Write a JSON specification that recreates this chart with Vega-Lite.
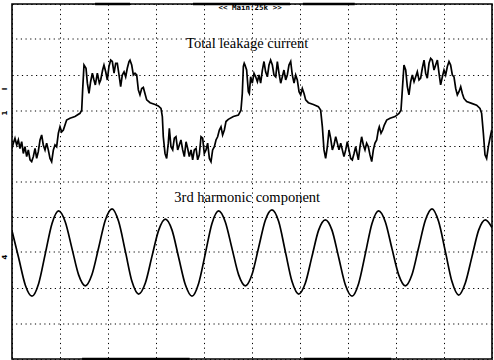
{
  "$schema": "https://vega.github.io/schema/vega-lite/v6.json",
  "width": 480,
  "height": 355,
  "autosize": "none",
  "padding": {"left": 12, "top": 4, "right": 2, "bottom": 1},
  "background": "white",
  "config": {"view": {"stroke": "black", "strokeWidth": 1.6}},
  "resolve": {"scale": {"y": "independent"}, "axis": {"y": "independent"}},
  "datasets": {
    "leak": [
      {"t":0.00,"v":0.93},{"t":0.14,"v":1.08},{"t":0.31,"v":1.22},{"t":0.49,"v":1.03},{"t":0.66,"v":1.17},{"t":0.83,"v":0.93},{"t":1.01,"v":1.12},{"t":1.18,"v":0.79},{"t":1.35,"v":0.98},{"t":1.53,"v":0.70},{"t":1.70,"v":0.89},{"t":1.88,"v":0.61},{"t":2.05,"v":0.56},{"t":2.22,"v":0.70},{"t":2.40,"v":0.93},{"t":2.57,"v":0.65},{"t":2.74,"v":0.84},{"t":2.92,"v":1.17},{"t":3.09,"v":1.31},{"t":3.26,"v":1.03},{"t":3.44,"v":0.89},{"t":3.61,"v":1.08},{"t":3.78,"v":0.89},{"t":3.96,"v":0.65},{"t":4.13,"v":0.56},{"t":4.31,"v":0.89},{"t":4.48,"v":1.03},{"t":4.65,"v":0.98},{"t":4.83,"v":1.36},{"t":5.00,"v":1.54},{"t":5.17,"v":1.40},{"t":5.35,"v":1.45},{"t":5.52,"v":1.59},{"t":5.69,"v":1.73},{"t":6.04,"v":1.78},{"t":6.56,"v":1.83},{"t":7.08,"v":1.92},{"t":7.26,"v":2.01},{"t":7.36,"v":2.58},{"t":7.50,"v":3.28},{"t":7.71,"v":3.19},{"t":7.85,"v":2.77},{"t":8.02,"v":2.48},{"t":8.19,"v":2.81},{"t":8.37,"v":3.05},{"t":8.54,"v":2.86},{"t":8.68,"v":2.72},{"t":8.89,"v":3.05},{"t":9.10,"v":2.77},{"t":9.24,"v":2.86},{"t":9.44,"v":3.14},{"t":9.58,"v":3.28},{"t":9.76,"v":3.09},{"t":9.93,"v":2.86},{"t":10.10,"v":3.24},{"t":10.28,"v":3.42},{"t":10.45,"v":3.38},{"t":10.63,"v":3.05},{"t":10.80,"v":3.33},{"t":10.97,"v":3.33},{"t":11.15,"v":3.00},{"t":11.32,"v":2.67},{"t":11.49,"v":3.00},{"t":11.67,"v":3.09},{"t":11.84,"v":2.95},{"t":12.01,"v":3.19},{"t":12.19,"v":3.38},
      {"t":12.29,"v":3.42},{"t":12.47,"v":3.28},{"t":12.64,"v":3.00},{"t":12.81,"v":3.05},{"t":12.99,"v":3.00},{"t":13.16,"v":2.58},{"t":13.33,"v":2.44},{"t":13.51,"v":2.62},{"t":13.68,"v":2.65},{"t":13.85,"v":2.48},{"t":14.03,"v":2.30},{"t":14.38,"v":2.22},{"t":14.90,"v":2.17},{"t":15.24,"v":2.13},{"t":15.52,"v":2.06},{"t":15.66,"v":1.83},{"t":15.76,"v":1.26},{"t":15.94,"v":0.79},{"t":16.11,"v":0.65},{"t":16.28,"v":1.08},{"t":16.39,"v":1.50},{"t":16.56,"v":0.98},{"t":16.74,"v":0.89},{"t":16.91,"v":1.22},{"t":17.08,"v":1.26},{"t":17.26,"v":0.89},{"t":17.43,"v":1.03},{"t":17.60,"v":1.17},{"t":17.78,"v":0.89},{"t":17.95,"v":0.70},{"t":18.13,"v":1.12},{"t":18.30,"v":0.93},{"t":18.47,"v":0.70},{"t":18.65,"v":0.89},{"t":18.82,"v":0.61},{"t":18.99,"v":0.89},{"t":19.17,"v":0.93},{"t":19.34,"v":0.61},{"t":19.51,"v":0.75},{"t":19.69,"v":1.26},{"t":19.86,"v":1.22},{"t":20.03,"v":0.79},{"t":20.21,"v":0.89},{"t":20.38,"v":1.08},{"t":20.56,"v":0.65},{"t":20.73,"v":0.56},{"t":20.90,"v":0.89},{"t":21.08,"v":0.98},{"t":21.25,"v":1.17},{"t":21.42,"v":1.26},{"t":21.60,"v":1.45},{"t":21.77,"v":1.54},{"t":21.94,"v":1.31},{"t":22.12,"v":1.45},{"t":22.29,"v":1.69},{"t":22.53,"v":1.75},{"t":23.06,"v":1.83},{"t":23.58,"v":1.87},{"t":23.85,"v":2.01},{"t":23.99,"v":2.48},{"t":24.10,"v":3.24},{"t":24.19,"v":3.33},
      {"t":24.27,"v":3.28},{"t":24.44,"v":3.14},{"t":24.62,"v":2.53},{"t":24.72,"v":2.48},{"t":24.86,"v":2.95},{"t":25.03,"v":2.77},{"t":25.21,"v":3.05},{"t":25.38,"v":2.95},{"t":25.56,"v":2.81},{"t":25.73,"v":3.00},{"t":25.90,"v":2.77},{"t":26.08,"v":3.14},{"t":26.25,"v":3.38},{"t":26.42,"v":3.09},{"t":26.60,"v":2.95},{"t":26.77,"v":3.28},{"t":26.94,"v":3.42},{"t":27.12,"v":3.28},{"t":27.29,"v":3.00},{"t":27.47,"v":2.95},{"t":27.64,"v":3.38},{"t":27.81,"v":3.05},{"t":27.99,"v":2.77},{"t":28.16,"v":2.95},{"t":28.33,"v":3.14},{"t":28.51,"v":2.86},{"t":28.68,"v":3.00},{"t":28.85,"v":3.28},{"t":29.03,"v":3.38},{"t":29.20,"v":3.00},{"t":29.38,"v":2.77},{"t":29.55,"v":3.00},{"t":29.72,"v":2.86},{"t":29.90,"v":2.53},{"t":30.07,"v":2.44},{"t":30.24,"v":2.62},{"t":30.42,"v":2.48},{"t":30.59,"v":2.30},{"t":30.87,"v":2.22},{"t":31.39,"v":2.17},{"t":31.91,"v":2.11},{"t":32.15,"v":2.01},{"t":32.33,"v":1.54},{"t":32.50,"v":0.89},{"t":32.67,"v":0.65},{"t":32.85,"v":0.98},{"t":33.02,"v":1.45},{"t":33.19,"v":1.22},{"t":33.37,"v":0.89},{"t":33.54,"v":1.03},{"t":33.72,"v":1.26},{"t":33.89,"v":1.08},{"t":34.06,"v":0.89},{"t":34.24,"v":1.08},{"t":34.41,"v":0.89},{"t":34.58,"v":0.70},{"t":34.76,"v":0.89},{"t":34.93,"v":1.12},{"t":35.10,"v":0.89},{"t":35.28,"v":0.65},{"t":35.45,"v":0.61},{"t":35.63,"v":0.79},{"t":35.80,"v":0.98},{"t":35.97,"v":0.75},{"t":36.08,"v":0.61},
      {"t":36.25,"v":0.98},{"t":36.42,"v":1.26},{"t":36.60,"v":1.03},{"t":36.77,"v":0.89},{"t":36.94,"v":1.08},{"t":37.12,"v":0.98},{"t":37.29,"v":0.75},{"t":37.47,"v":0.56},{"t":37.64,"v":0.89},{"t":37.81,"v":1.08},{"t":37.99,"v":1.17},{"t":38.16,"v":1.45},{"t":38.26,"v":1.54},{"t":38.44,"v":1.36},{"t":38.61,"v":1.45},{"t":38.78,"v":1.59},{"t":39.03,"v":1.73},{"t":39.38,"v":1.78},{"t":39.90,"v":1.83},{"t":40.31,"v":1.92},{"t":40.52,"v":2.01},{"t":40.66,"v":2.58},{"t":40.83,"v":3.28},{"t":41.01,"v":3.14},{"t":41.18,"v":2.67},{"t":41.35,"v":2.44},{"t":41.53,"v":2.81},{"t":41.70,"v":3.00},{"t":41.88,"v":2.81},{"t":42.05,"v":2.95},{"t":42.22,"v":3.09},{"t":42.40,"v":2.86},{"t":42.57,"v":2.91},{"t":42.74,"v":3.19},{"t":42.92,"v":3.42},{"t":43.09,"v":3.05},{"t":43.26,"v":2.91},{"t":43.44,"v":3.33},{"t":43.61,"v":3.47},{"t":43.78,"v":3.42},{"t":43.96,"v":3.14},{"t":44.13,"v":3.28},{"t":44.31,"v":3.42},{"t":44.48,"v":3.05},{"t":44.65,"v":2.72},{"t":44.83,"v":2.95},{"t":45.00,"v":3.14},{"t":45.17,"v":3.00},{"t":45.35,"v":3.24},{"t":45.52,"v":3.38},{"t":45.69,"v":3.28},{"t":45.87,"v":3.00},{"t":46.04,"v":2.95},{"t":46.22,"v":2.62},{"t":46.39,"v":2.44},{"t":46.56,"v":2.53},{"t":46.74,"v":2.67},{"t":46.91,"v":2.48},{"t":47.08,"v":2.34},{"t":47.36,"v":2.25},{"t":47.88,"v":2.20},{"t":48.40,"v":2.15},{"t":48.75,"v":2.06},{"t":48.92,"v":1.92},{"t":49.10,"v":1.36},{"t":49.27,"v":0.75},{"t":49.44,"v":0.65},{"t":49.62,"v":0.98},{"t":49.79,"v":1.22},{"t":49.97,"v":1.45}
    ],
    "harm": [
      {"t":0,"v":-1.39},{"t":0.69,"v":-2.15},{"t":1.39,"v":-2.92},{"t":2.08,"v":-3.23},{"t":2.78,"v":-2.87},{"t":3.47,"v":-2.03},{"t":4.17,"v":-1.18},{"t":4.86,"v":-0.83},{"t":5.55,"v":-1.14},{"t":6.25,"v":-1.89},{"t":6.94,"v":-2.63},{"t":7.64,"v":-2.94},{"t":8.33,"v":-2.62},{"t":9.03,"v":-1.86},{"t":9.72,"v":-1.09},{"t":10.42,"v":-0.77},{"t":11.11,"v":-1.13},{"t":11.81,"v":-1.97},{"t":12.5,"v":-2.82},{"t":13.19,"v":-3.17},{"t":13.89,"v":-2.86},{"t":14.58,"v":-2.11},{"t":15.28,"v":-1.37},{"t":15.97,"v":-1.06},{"t":16.67,"v":-1.37},{"t":17.36,"v":-2.14},{"t":18.06,"v":-2.91},{"t":18.75,"v":-3.23},{"t":19.44,"v":-2.87},{"t":20.14,"v":-2.03},{"t":20.83,"v":-1.18},{"t":21.53,"v":-0.83},{"t":22.22,"v":-1.14},{"t":22.92,"v":-1.89},{"t":23.61,"v":-2.63},{"t":24.31,"v":-2.94},{"t":25.0,"v":-2.62},{"t":25.69,"v":-1.86},{"t":26.39,"v":-1.09},{"t":27.08,"v":-0.8},{"t":27.78,"v":-1.13},{"t":28.47,"v":-1.97},{"t":29.17,"v":-2.82},{"t":29.86,"v":-3.17},{"t":30.56,"v":-2.86},{"t":31.25,"v":-2.11},{"t":31.94,"v":-1.37},{"t":32.64,"v":-1.08},{"t":33.33,"v":-1.37},{"t":34.03,"v":-2.14},{"t":34.72,"v":-2.91},{"t":35.42,"v":-3.23},{"t":36.11,"v":-2.87},{"t":36.81,"v":-2.03},{"t":37.5,"v":-1.18},{"t":38.19,"v":-0.83},{"t":38.89,"v":-1.14},{"t":39.58,"v":-1.89},{"t":40.28,"v":-2.63},{"t":40.97,"v":-2.94},{"t":41.67,"v":-2.62},{"t":42.36,"v":-1.86},{"t":43.06,"v":-1.09},{"t":43.75,"v":-0.77},{"t":44.44,"v":-1.13},{"t":45.14,"v":-1.97},{"t":45.83,"v":-2.82},{"t":46.53,"v":-3.2},{"t":47.22,"v":-2.86},{"t":47.92,"v":-2.11},{"t":48.61,"v":-1.37},{"t":49.31,"v":-1.08},{"t":50,"v":-1.3}
    ],
    "bars": [
      {"t1": 8.65, "t2": 12.3, "v": 5},
      {"t1": 18.85, "t2": 28.96, "v": 5},
      {"t1": 30.3, "t2": 35.7, "v": 5},
      {"t1": 7.3, "t2": 18.5, "v": -5},
      {"t1": 30.4, "t2": 39.5, "v": -5}
    ]
  },
  "layer": [
    {
      "data": {"name": "leak"},
      "mark": {"type": "line", "color": "black", "strokeWidth": 1.7, "clip": true},
      "encoding": {
        "x": {"field": "t", "type": "quantitative", "scale": {"domain": [0, 50], "nice": false},
          "axis": {"values": [0,5,10,15,20,25,30,35,40,45,50], "grid": true, "gridDash": [1.2, 3.5], "gridColor": "#000", "gridWidth": 1, "labels": false, "ticks": false, "domain": false, "title": null}},
        "y": {"field": "v", "type": "quantitative", "scale": {"domain": [-5, 5], "nice": false, "zero": false},
          "axis": {"values": [-5,-3,-1,1,3,5], "grid": true, "gridDash": [1.2, 3.5], "gridColor": "#000", "gridWidth": 1, "labels": false, "ticks": false, "domain": false, "title": null}}
      }
    },
    {
      "data": {"name": "harm"},
      "mark": {"type": "line", "color": "black", "strokeWidth": 1.7, "interpolate": "monotone", "clip": true},
      "encoding": {
        "x": {"field": "t", "type": "quantitative"},
        "y": {"field": "v", "type": "quantitative", "scale": {"domain": [-5, 5], "nice": false, "zero": false},
          "axis": {"orient": "right", "values": [-4,-2,0,2,4], "translate": 0, "grid": true, "gridDash": [1.2, 3.5], "gridColor": "#000", "gridWidth": 1, "labels": false, "ticks": false, "domain": false, "title": null}}
      }
    },
    {
      "data": {"name": "bars"},
      "mark": {"type": "rule", "color": "black", "strokeWidth": 2.5},
      "encoding": {
        "x": {"field": "t1", "type": "quantitative"},
        "x2": {"field": "t2"},
        "y": {"field": "v", "type": "quantitative", "scale": {"domain": [-5, 5], "nice": false, "zero": false}, "axis": null}
      }
    },
    {
      "data": {"values": [{"label": "Total leakage current", "t": 24.5, "v": 3.87}, {"label": "3rd harmonic component", "t": 24.5, "v": -0.46}]},
      "mark": {"type": "text", "font": "Liberation Serif", "fontSize": 14.5, "color": "black", "align": "center", "baseline": "middle"},
      "encoding": {
        "x": {"field": "t", "type": "quantitative"},
        "y": {"field": "v", "type": "quantitative", "scale": {"domain": [-5, 5], "nice": false, "zero": false}, "axis": null},
        "text": {"field": "label"}
      }
    },
    {
      "data": {"values": [{"label": "<< Main:25k >>", "t": 24.8, "v": 4.89}]},
      "mark": {"type": "text", "font": "DejaVu Sans Mono", "fontSize": 7.5, "fontWeight": "bold", "color": "black", "align": "center", "baseline": "middle"},
      "encoding": {
        "x": {"field": "t", "type": "quantitative"},
        "y": {"field": "v", "type": "quantitative", "scale": {"domain": [-5, 5], "nice": false, "zero": false}, "axis": null},
        "text": {"field": "label"}
      }
    },
    {
      "data": {"values": [{"label": "I", "t": -0.75, "v": 2.61}, {"label": "1", "t": -0.75, "v": 1.93}, {"label": "4", "t": -0.75, "v": -2.13}]},
      "mark": {"type": "text", "font": "DejaVu Sans", "fontSize": 7, "fontWeight": "bold", "color": "black", "align": "center", "baseline": "middle", "angle": 270},
      "encoding": {
        "x": {"field": "t", "type": "quantitative"},
        "y": {"field": "v", "type": "quantitative", "scale": {"domain": [-5, 5], "nice": false, "zero": false}, "axis": null},
        "text": {"field": "label"}
      }
    }
  ]
}
